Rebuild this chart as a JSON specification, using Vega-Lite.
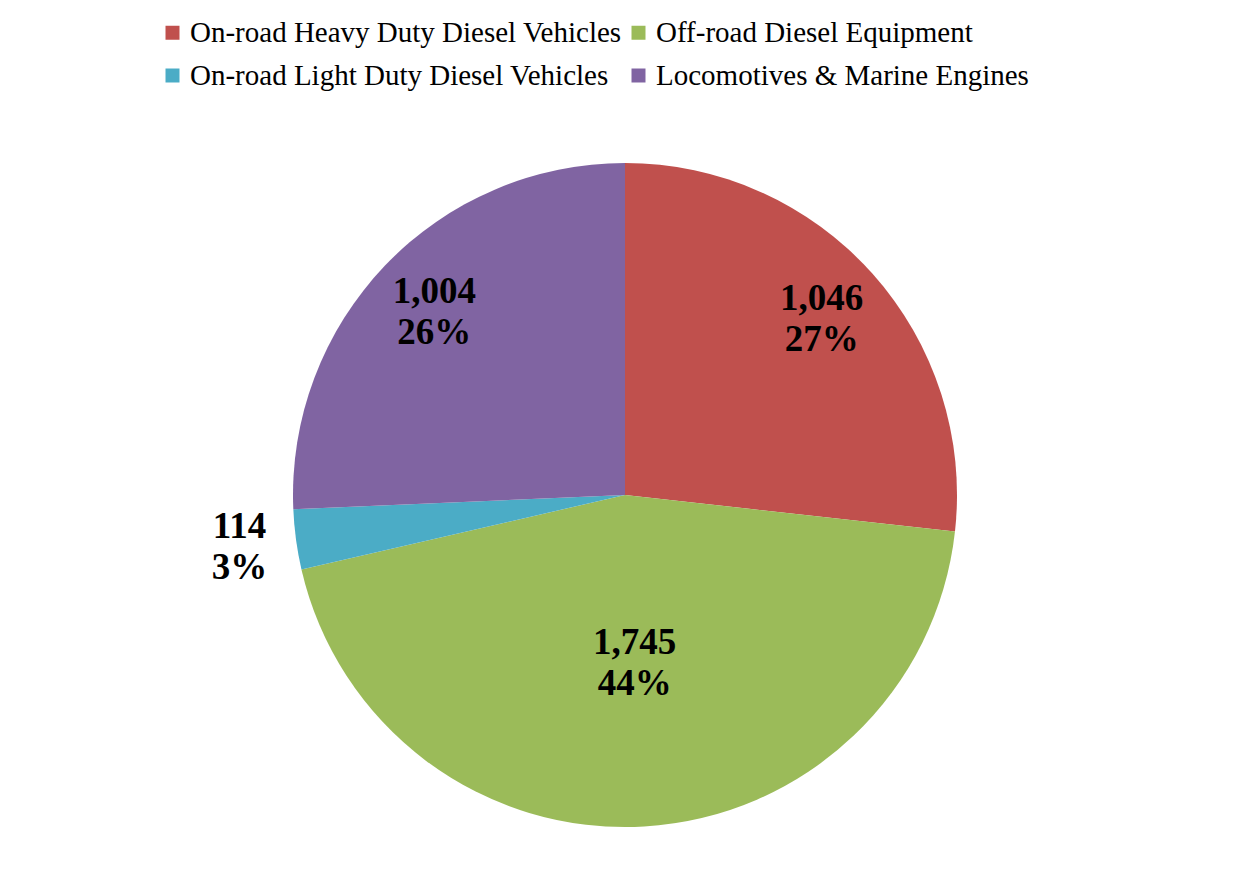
{
  "$schema": "https://vega.github.io/schema/vega-lite/v6.json",
  "width": 664,
  "height": 664,
  "autosize": {"type": "none"},
  "padding": {"left": 293, "top": 163, "right": 290, "bottom": 69},
  "background": "white",
  "config": {"view": {"stroke": null}, "font": "Liberation Serif"},
  "data": {
    "values": [
      {"category": "On-road Heavy Duty Diesel Vehicles", "value": 1046, "pct": 27, "idx": 1},
      {"category": "Off-road Diesel Equipment", "value": 1745, "pct": 44, "idx": 2},
      {"category": "On-road Light Duty Diesel Vehicles", "value": 114, "pct": 3, "idx": 3},
      {"category": "Locomotives & Marine Engines", "value": 1004, "pct": 26, "idx": 4}
    ]
  },
  "transform": [
    {"stack": "value", "groupby": [], "sort": [{"field": "idx", "order": "ascending"}], "as": ["v0", "v1"]},
    {"calculate": "(datum.v0 + datum.v1) / 2", "as": "vmid"},
    {"calculate": "[format(datum.value, ','), datum.pct + '%']", "as": "label"}
  ],
  "encoding": {
    "color": {
      "field": "category",
      "type": "nominal",
      "scale": {
        "domain": ["On-road Heavy Duty Diesel Vehicles", "Off-road Diesel Equipment", "On-road Light Duty Diesel Vehicles", "Locomotives & Marine Engines"],
        "range": ["#C0504D", "#9BBB59", "#4BACC6", "#8064A2"]
      },
      "legend": {
        "orient": "none",
        "legendX": -135,
        "legendY": -145,
        "direction": "horizontal",
        "columns": 2,
        "title": null,
        "padding": 0,
        "symbolType": "square",
        "symbolSize": 196,
        "symbolStrokeWidth": 0,
        "symbolOpacity": 1,
        "labelFont": "Liberation Serif",
        "labelFontSize": 29,
        "labelColor": "black",
        "labelOffset": 3,
        "labelLimit": 0,
        "rowPadding": 13,
        "columnPadding": 2
      }
    }
  },
  "layer": [
    {
      "mark": {"type": "arc", "outerRadius": 332},
      "encoding": {
        "theta": {"field": "v0", "type": "quantitative", "scale": {"domain": [0, 3909]}},
        "theta2": {"field": "v1"}
      }
    },
    {
      "transform": [{"filter": "datum.idx == 1 || datum.idx == 4"}],
      "mark": {"type": "text", "radius": 264, "font": "Liberation Serif", "fontWeight": "bold", "fontSize": 37, "lineHeight": 41, "baseline": "middle", "dy": -20, "color": "black"},
      "encoding": {
        "theta": {"field": "vmid", "type": "quantitative"},
        "text": {"field": "label"},
        "color": {"value": "black"}
      }
    },
    {
      "transform": [{"filter": "datum.idx == 2"}],
      "mark": {"type": "text", "radius": 168, "font": "Liberation Serif", "fontWeight": "bold", "fontSize": 37, "lineHeight": 41, "baseline": "middle", "dy": -20, "color": "black"},
      "encoding": {
        "theta": {"field": "vmid", "type": "quantitative"},
        "text": {"field": "label"},
        "color": {"value": "black"}
      }
    },
    {
      "transform": [{"filter": "datum.idx == 3"}],
      "mark": {"type": "text", "radius": 389, "font": "Liberation Serif", "fontWeight": "bold", "fontSize": 37, "lineHeight": 41, "baseline": "middle", "dy": -20, "color": "black"},
      "encoding": {
        "theta": {"field": "vmid", "type": "quantitative"},
        "text": {"field": "label"},
        "color": {"value": "black"}
      }
    }
  ]
}
